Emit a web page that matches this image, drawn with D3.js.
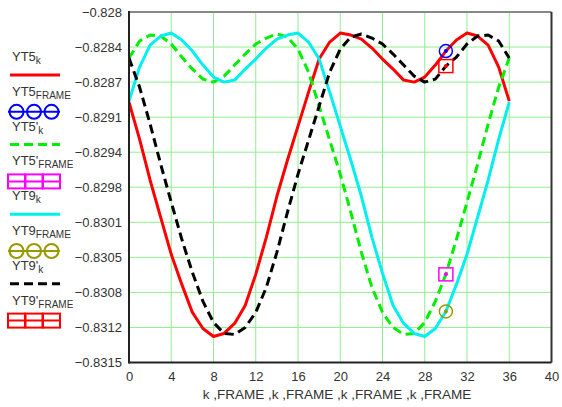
<!DOCTYPE html>
<html>
<head>
<meta charset="utf-8">
<script src="https://cdn.jsdelivr.net/npm/d3@7"></script>
<style>
  body { margin: 0; background: #fff; }
  svg { display: block; font-family: "Liberation Sans", Arial, sans-serif; }
</style>
</head>
<body>
<svg id="chart" width="562" height="407"></svg>
<script>
// k values 0..36
const kValues = d3.range(0, 37);

// YT5_k (red solid)
const yt5 = [-0.82890, -0.82927, -0.82968, -0.83005, -0.83042, -0.83072, -0.83100, -0.83116, -0.83124, -0.83121,
  -0.83111, -0.83093, -0.83062, -0.83025, -0.82984, -0.82948, -0.82914, -0.82880, -0.82847, -0.82830,
  -0.82821, -0.82823, -0.82827, -0.82836, -0.82847, -0.82857, -0.82868, -0.82870, -0.82865, -0.82853,
  -0.82839, -0.82828, -0.82821, -0.82824, -0.82833, -0.82855, -0.82889];
// YT5'_k (green dashed)
const yt5p = [-0.82846, -0.82829, -0.82823, -0.82824, -0.82832, -0.82845, -0.82857, -0.82867, -0.82870, -0.82864,
  -0.82853, -0.82842, -0.82832, -0.82826, -0.82822, -0.82825, -0.82837, -0.82860, -0.82894, -0.82928,
  -0.82962, -0.83000, -0.83040, -0.83075, -0.83100, -0.83115, -0.83122, -0.83121, -0.83110, -0.83089,
  -0.83062, -0.83027, -0.82990, -0.82952, -0.82912, -0.82875, -0.82846];
// YT9_k (cyan solid)
const yt9 = [-0.82889, -0.82855, -0.82833, -0.82824, -0.82821, -0.82828, -0.82839, -0.82853, -0.82865, -0.82870,
  -0.82868, -0.82857, -0.82847, -0.82836, -0.82827, -0.82823, -0.82821, -0.82830, -0.82847, -0.82880,
  -0.82914, -0.82948, -0.82984, -0.83025, -0.83061, -0.83093, -0.83111, -0.83121, -0.83124, -0.83116,
  -0.83099, -0.83072, -0.83042, -0.83005, -0.82968, -0.82927, -0.82890];
// YT9'_k (black dashed)
const yt9p = [-0.82846, -0.82875, -0.82912, -0.82952, -0.82990, -0.83027, -0.83060, -0.83089, -0.83110, -0.83121,
  -0.83122, -0.83115, -0.83100, -0.83075, -0.83040, -0.83000, -0.82962, -0.82928, -0.82894, -0.82860,
  -0.82837, -0.82825, -0.82822, -0.82826, -0.82832, -0.82842, -0.82853, -0.82864, -0.82870, -0.82867,
  -0.82854, -0.82845, -0.82832, -0.82824, -0.82823, -0.82829, -0.82846];

// single FRAME points
const frame = 30;
const yt5Frame = -0.82839;
const yt5pFrame = -0.83062;
const yt9Frame = -0.83099;
const yt9pFrame = -0.82854;

const xTicks = [0, 4, 8, 12, 16, 20, 24, 28, 32, 36, 40];
const yTicks = [-0.828, -0.82835, -0.8287, -0.82905, -0.8294, -0.82975, -0.8301, -0.83045, -0.8308, -0.83115, -0.8315];
const yTickLabels = ["\u22120.828", "\u22120.8284", "\u22120.8287", "\u22120.8291", "\u22120.8294", "\u22120.8298",
  "\u22120.8301", "\u22120.8305", "\u22120.8308", "\u22120.8312", "\u22120.8315"];

const svg = d3.select("#chart");
const margin = { left: 129, right: 10.5, top: 12, bottom: 44.5 };
const W = 562, H = 407;

const x = d3.scaleLinear().domain([0, 40]).range([margin.left, W - margin.right]);
const y = d3.scaleLinear().domain([-0.8315, -0.828]).range([H - margin.bottom, margin.top]);

// grid
const grid = svg.append("g").attr("stroke", "#8ef08e").attr("stroke-width", 1);
grid.selectAll(".vg").data(xTicks.slice(1, -1)).enter().append("line")
  .attr("x1", d => x(d)).attr("x2", d => x(d))
  .attr("y1", y.range()[1]).attr("y2", y.range()[0]);
grid.selectAll(".hg").data(yTicks.slice(1, -1)).enter().append("line")
  .attr("x1", x.range()[0]).attr("x2", x.range()[1])
  .attr("y1", d => y(d)).attr("y2", d => y(d));

// axes labels
const xAxis = svg.append("g")
  .attr("transform", `translate(0,${y.range()[0]})`)
  .call(d3.axisBottom(x).tickValues(xTicks).tickSize(0).tickPadding(9));
xAxis.select(".domain").remove();
xAxis.selectAll("text").attr("font-size", 13).attr("fill", "#333").attr("font-family", "Liberation Sans, Arial, sans-serif");

const yAxis = svg.append("g")
  .attr("transform", `translate(${x.range()[0]},0)`)
  .call(d3.axisLeft(y).tickValues(yTicks).tickSize(0).tickPadding(7)
    .tickFormat((d, i) => yTickLabels[i]));
yAxis.select(".domain").remove();
yAxis.selectAll("text").attr("font-size", 13).attr("fill", "#333").attr("font-family", "Liberation Sans, Arial, sans-serif");

svg.append("text")
  .attr("x", 337).attr("y", 399)
  .attr("text-anchor", "middle")
  .attr("font-size", 13.5).attr("fill", "#333")
  .text("k ,FRAME ,k ,FRAME ,k ,FRAME ,k ,FRAME");

// plot area, clipped
svg.append("clipPath").attr("id", "clip").append("rect")
  .attr("x", x.range()[0]).attr("y", y.range()[1])
  .attr("width", x.range()[1] - x.range()[0]).attr("height", y.range()[0] - y.range()[1]);
const plot = svg.append("g").attr("clip-path", "url(#clip)");

const line = d3.line().x((d, i) => x(kValues[i])).y(d => y(d));

const series = [
  { data: yt5, color: "#ff0000", dash: null },
  { data: yt5p, color: "#00ee00", dash: "9,5" },
  { data: yt9, color: "#00f0f0", dash: null },
  { data: yt9p, color: "#000000", dash: "9,5" }
];
series.forEach(s => {
  plot.append("path")
    .datum(s.data)
    .attr("fill", "none")
    .attr("stroke", s.color)
    .attr("stroke-width", 3)
    .attr("stroke-dasharray", s.dash)
    .attr("stroke-linejoin", "round")
    .attr("d", line);
});

// frame markers
const markers = [
  { v: yt5Frame, color: "#0000ff", shape: "circle" },
  { v: yt5pFrame, color: "#ff00ff", shape: "square" },
  { v: yt9Frame, color: "#999900", shape: "circle" },
  { v: yt9pFrame, color: "#ff0000", shape: "square" }
];
markers.forEach(m => {
  const cx = x(frame), cy = y(m.v);
  if (m.shape === "circle") {
    plot.append("circle").attr("cx", cx).attr("cy", cy).attr("r", 6.5)
      .attr("fill", "none").attr("stroke", m.color).attr("stroke-width", 1.5);
  } else {
    plot.append("rect").attr("x", cx - 7).attr("y", cy - 6.5).attr("width", 14).attr("height", 13)
      .attr("fill", "none").attr("stroke", m.color).attr("stroke-width", 1.5);
  }
  plot.append("circle").attr("cx", cx).attr("cy", cy).attr("r", 2).attr("fill", m.color);
});

// frame border
const [x0, x1] = x.range(), [y1, y0] = y.range();
svg.append("line").attr("x1", x0).attr("x2", x1).attr("y1", y0).attr("y2", y0).attr("stroke", "#888").attr("stroke-width", 2);
svg.append("line").attr("x1", x1).attr("x2", x1).attr("y1", y0).attr("y2", y1).attr("stroke", "#333").attr("stroke-width", 2);
svg.append("line").attr("x1", x0).attr("x2", x1).attr("y1", y1).attr("y2", y1).attr("stroke", "#222").attr("stroke-width", 2);
svg.append("line").attr("x1", x0).attr("x2", x0).attr("y1", y0 - 1).attr("y2", y1 + 1).attr("stroke", "#222").attr("stroke-width", 2);

// legend
const legendItems = [
  { base: "YT5", sub: "k", color: "#ff0000", type: "line" },
  { base: "YT5", sub: "FRAME", color: "#0000ff", type: "circle" },
  { base: "YT5'", sub: "k", color: "#00ee00", type: "dash" },
  { base: "YT5'", sub: "FRAME", color: "#ff00ff", type: "square" },
  { base: "YT9", sub: "k", color: "#00f0f0", type: "line" },
  { base: "YT9", sub: "FRAME", color: "#999900", type: "circle" },
  { base: "YT9'", sub: "k", color: "#000000", type: "dash" },
  { base: "YT9'", sub: "FRAME", color: "#ff0000", type: "square" }
];
const legend = svg.append("g");
legendItems.forEach((d, i) => {
  const ty = 61 + i * 34.8;
  const t = legend.append("text").attr("x", 12).attr("y", ty).attr("font-size", 13).attr("fill", "#333");
  t.append("tspan").text(d.base);
  t.append("tspan").attr("dy", 3).attr("font-size", 10).text(d.sub);
  const sy = ty + 14;
  if (d.type === "line" || d.type === "dash") {
    legend.append("line").attr("x1", 10).attr("x2", 60).attr("y1", sy).attr("y2", sy)
      .attr("stroke", d.color).attr("stroke-width", 3)
      .attr("stroke-dasharray", d.type === "dash" ? "9,5" : null);
  } else {
    const cy = sy + 2;
    legend.append("line").attr("x1", 8).attr("x2", 60).attr("y1", cy).attr("y2", cy)
      .attr("stroke", d.color).attr("stroke-width", 2);
    [16.5, 34, 51.5].forEach(cx => {
      if (d.type === "circle") {
        legend.append("circle").attr("cx", cx).attr("cy", cy).attr("r", 7)
          .attr("fill", "none").attr("stroke", d.color).attr("stroke-width", 2);
      } else {
        legend.append("rect").attr("x", cx - 8.5).attr("y", cy - 7).attr("width", 17).attr("height", 14)
          .attr("fill", "none").attr("stroke", d.color).attr("stroke-width", 2);
      }
    });
  }
});
</script>
</body>
</html>
